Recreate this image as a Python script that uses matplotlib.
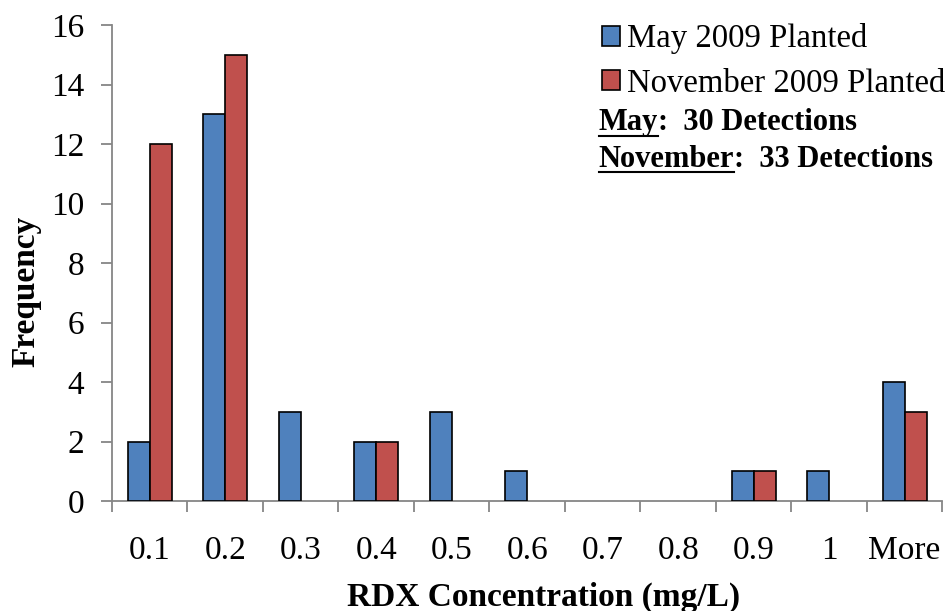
import matplotlib.pyplot as plt
import numpy as np

plt.rcParams['font.family'] = ['Liberation Serif', 'DejaVu Serif']

# histogram data
bins = ['0.1', '0.2', '0.3', '0.4', '0.5', '0.6', '0.7', '0.8', '0.9', '1', 'More']
may_counts = [2, 13, 3, 2, 3, 1, 0, 0, 1, 1, 4]
nov_counts = [12, 15, 0, 2, 0, 0, 0, 0, 1, 0, 3]
series_names = ['May 2009 Planted', 'November 2009 Planted']

blue = '#4F81BD'
red = '#C0504D'
grey = '#868686'

fig = plt.figure(figsize=(9.49, 6.11), dpi=100)
ax = fig.add_axes([0.118, 0.18, 0.875, 0.779])

x = np.arange(len(bins))
w = 0.29
# empty bins get no outline (Excel draws nothing there)
may_edges = ['black' if v > 0 else 'none' for v in may_counts]
nov_edges = ['black' if v > 0 else 'none' for v in nov_counts]
ax.bar(x - w / 2, may_counts, w, color=blue, edgecolor=may_edges, linewidth=1.2, label=series_names[0], zorder=3)
ax.bar(x + w / 2, nov_counts, w, color=red, edgecolor=nov_edges, linewidth=1.2, label=series_names[1], zorder=3)

ax.set_xlim(-0.5, len(bins) - 0.5)
ax.set_ylim(0, 16)
ax.set_yticks(range(0, 17, 2))
ax.tick_params(axis='y', labelsize=24, length=8, color=grey, width=1.3, direction='out', pad=12)

# category ticks sit on the boundaries, labels in the middle
ax.set_xticks(np.arange(len(bins) + 1) - 0.5)
ax.set_xticklabels([])
ax.set_xticks(x, minor=True)
ax.set_xticklabels(bins, minor=True, fontsize=24)
ax.tick_params(axis='x', which='major', length=8, color=grey, width=1.3, direction='out')
ax.tick_params(axis='x', which='minor', length=0, pad=25)

for s in ['top', 'right']:
    ax.spines[s].set_visible(False)
for s in ['left', 'bottom']:
    ax.spines[s].set_color(grey)
    ax.spines[s].set_linewidth(1.3)

ax.set_xlabel('RDX Concentration (mg/L)', fontsize=24, fontweight='bold')
ax.set_ylabel('Frequency', fontsize=24, fontweight='bold')
ax.xaxis.set_label_coords(0.52, -0.202)
ax.xaxis.label.set_va('center')
ax.yaxis.set_label_coords(-0.103, 0.441)
ax.yaxis.label.set_va('center')
ax.yaxis.label.set_ha('center')

leg = ax.legend(loc='upper right', bbox_to_anchor=(1.019, 1.031), frameon=False, fontsize=23.6,
                handlelength=0.55, handleheight=0.55, handletextpad=0.2, labelspacing=0.42,
                borderaxespad=0)
for h in leg.legend_handles:
    h.set_edgecolor('black')

# detection counts, with underlined month names
fig.canvas.draw()
renderer = fig.canvas.get_renderer()
notes = [('May', ':  30 Detections', 0.787), ('November', ':  33 Detections', 0.727)]
for word, rest, yy in notes:
    t1 = fig.text(0.631, yy, word, fontsize=22, fontweight='bold', va='baseline')
    bb = t1.get_window_extent(renderer)
    fig.text(bb.x1 / fig.bbox.width, yy, rest, fontsize=22, fontweight='bold', va='baseline')
    uy = yy - 0.009
    fig.lines.append(plt.Line2D([bb.x0 / fig.bbox.width, bb.x1 / fig.bbox.width], [uy, uy],
                                transform=fig.transFigure, color='black', linewidth=1.5))

fig.savefig('out.png', dpi=100)
